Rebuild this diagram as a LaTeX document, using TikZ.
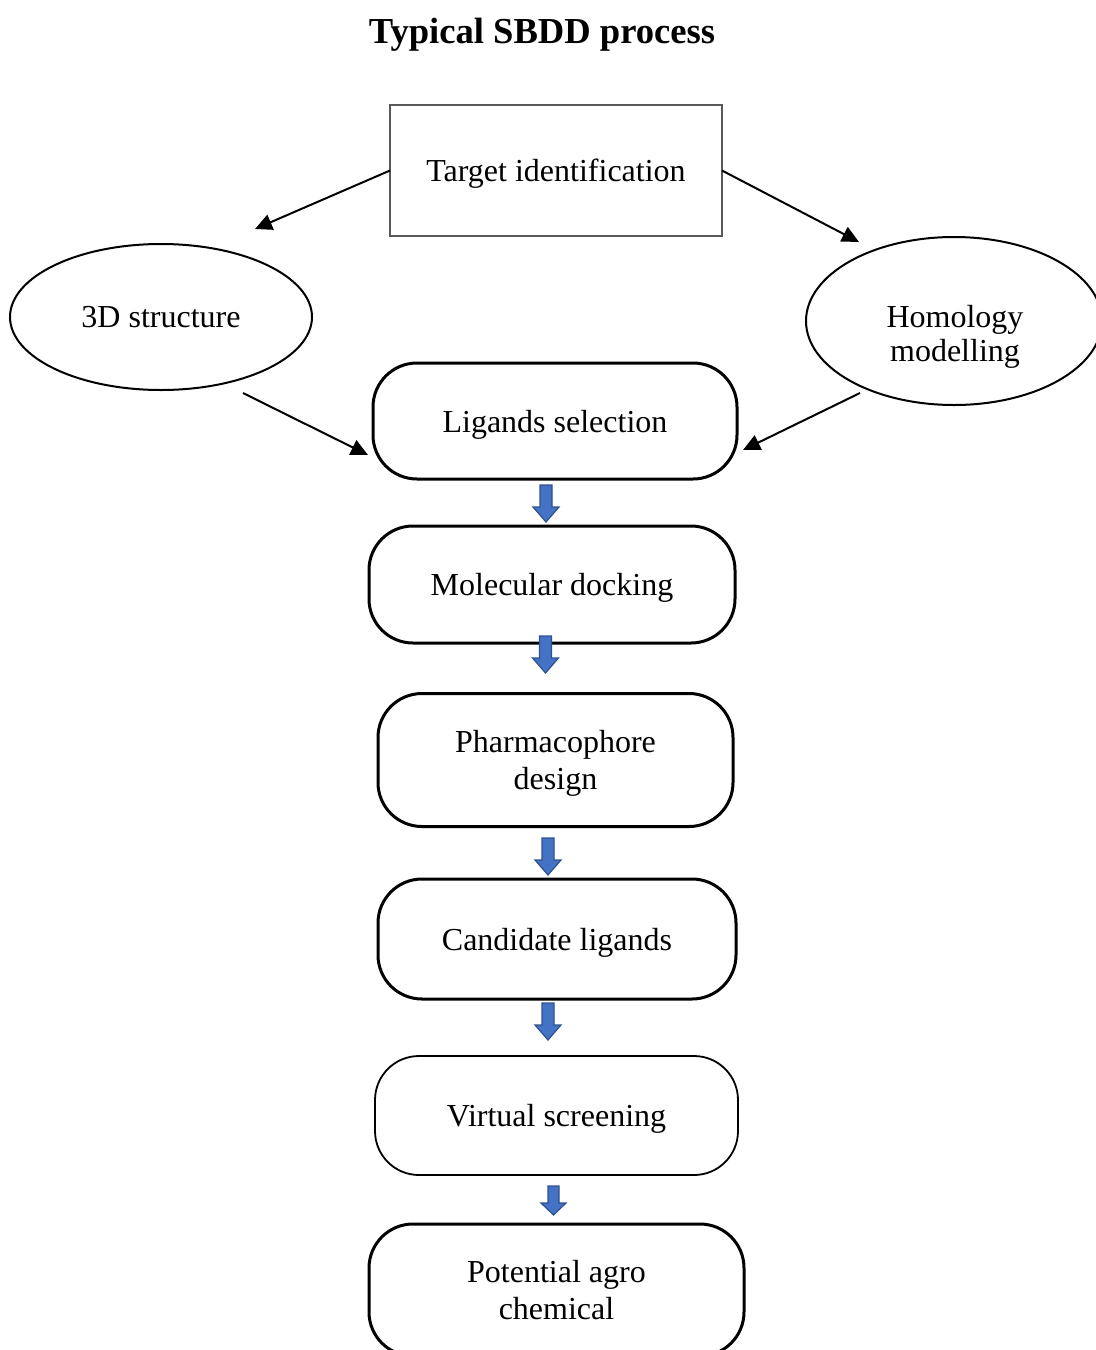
\documentclass[tikz,border=0pt]{standalone}
\usepackage{fontspec}
\setmainfont{Liberation Serif}
\usetikzlibrary{shapes.geometric,arrows.meta}

\definecolor{blockfill}{HTML}{4472C4}
\definecolor{blockedge}{HTML}{2F528F}

\tikzset{
  downblock/.pic={
    \draw[draw=blockedge,fill=blockfill,line width=0.6pt]
      (-6,0) -- (6,0) -- (6,22) -- (13,22) -- (0,37) -- (-13,22) -- (-6,22) -- cycle;
  },
  smallblock/.pic={
    \draw[draw=blockedge,fill=blockfill,line width=0.6pt]
      (-5.5,0) -- (5.5,0) -- (5.5,17) -- (12.5,17) -- (0,29) -- (-12.5,17) -- (-5.5,17) -- cycle;
  }
}

\begin{document}
\begin{tikzpicture}[x=0.5pt,y=-0.5pt,
    every node/.style={font=\fontsize{16}{18.5}\selectfont,align=center,inner sep=0pt,outer sep=0pt,text depth=0pt}]

        \useasboundingbox (0,0) rectangle (1096,1350);

        \node[font=\fontsize{18.3}{22}\selectfont\bfseries] (title) at (542,31) {Typical SBDD process};

        \node[draw=black!65,line width=0.6pt,minimum width=166pt,minimum height=65.5pt]
          (target) at (556,170.5) {Target identification};

        \begin{scope}[every node/.append style={ellipse,draw,line width=1pt}]
          \node[minimum width=151pt,minimum height=73pt] (struct) at (161,317) {3D structure};
          \node[minimum width=148pt,minimum height=84pt] (homology) at (954,321) {};
        \end{scope}
        \node[font=\fontsize{16}{17}\selectfont] (homology-text) at (955,333) {Homology\\modelling};

        \begin{scope}[every node/.append style={draw,line width=1.5pt,rounded corners=22pt}]
          \node[minimum width=182pt,minimum height=58pt]   (ligands)   at (555,421)    {Ligands selection};
          \node[minimum width=183pt,minimum height=58.5pt] (docking)   at (552,584.5)  {Molecular docking};
          \node[minimum width=177.5pt,minimum height=66.5pt] (pharma)  at (555.5,760) {Pharmacophore\\design};
          \node[minimum width=179pt,minimum height=60pt]   (candidate) at (557,939)    {Candidate ligands};
          \node[line width=0.9pt,minimum width=181.5pt,minimum height=59.5pt] (virtual) at (556.5,1115.5) {Virtual screening};
          \node[minimum width=187.5pt,minimum height=66pt] (agro)      at (556.5,1290) {Potential agro\\chemical};
        \end{scope}

        \coordinate (struct-in)   at (255,229);
        \coordinate (homology-in) at (859,242);
        \coordinate (struct-out)  at (243,393);
        \coordinate (homology-out) at (860,393);
        \coordinate (ligands-l)   at (368,455);
        \coordinate (ligands-r)   at (743,450);

        \begin{scope}[line width=1pt,-{Triangle[length=8.5pt,width=8pt]}]
          \draw (target.west)  -- (struct-in);
          \draw (target.east)  -- (homology-in);
          \draw (struct-out)   -- (ligands-l);
          \draw (homology-out) -- (ligands-r);
        \end{scope}

        \pic at (546,485)    {downblock};
        \pic at (545.5,636)  {downblock};
        \pic at (548,838)    {downblock};
        \pic at (548,1003)   {downblock};
        \pic at (553.5,1186) {smallblock};

      \end{tikzpicture}
\end{document}
